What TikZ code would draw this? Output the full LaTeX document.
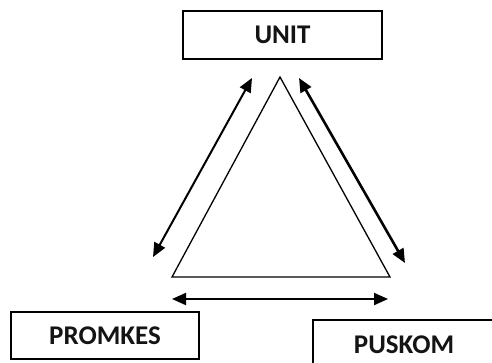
\documentclass[tikz,border=0pt]{standalone}
\usepackage{fontspec}
\setmainfont{Carlito}
\usetikzlibrary{arrows.meta}
\begin{document}
\begin{tikzpicture}[x=1pt,y=-1pt,
  lbl/.style={font=\fontsize{27}{30}\selectfont\bfseries,text=black!92},
  box/.style={draw,line width=1.5pt,inner sep=0pt,lbl},
  biarrow/.style={line width=2pt,{Triangle[length=14pt,width=12pt]}-{Triangle[length=14pt,width=12pt]}},
  tri/.style={draw,line width=1.3pt,line join=miter}]
\useasboundingbox (0,0) rectangle (492,362);
\node[box,minimum width=199pt,minimum height=48pt] (unit) at (282.5,35) {UNIT};
\node[box,minimum width=188pt,minimum height=47pt] (promkes) at (105,335.5) {PROMKES};
\node[box,minimum width=182pt,minimum height=60pt,anchor=north west] (puskom) at (312,319) {};
\node[lbl] (puskomtext) at (404,345) {PUSKOM};
\coordinate (apex) at (280,77);
\coordinate (bl) at (172,277);
\coordinate (br) at (390,277);
\draw[tri] (apex) -- (bl) -- (br) -- cycle;
\coordinate (la) at (252,78);
\coordinate (lb) at (153,257);
\coordinate (ra) at (299,78);
\coordinate (rb) at (405,263);
\coordinate (ba) at (172,299);
\coordinate (bb) at (388,299);
\draw[biarrow] (la) -- (lb);
\draw[biarrow,line width=2.6pt] (ra) -- (rb);
\draw[biarrow] (ba) -- (bb);
\end{tikzpicture}
\end{document}
